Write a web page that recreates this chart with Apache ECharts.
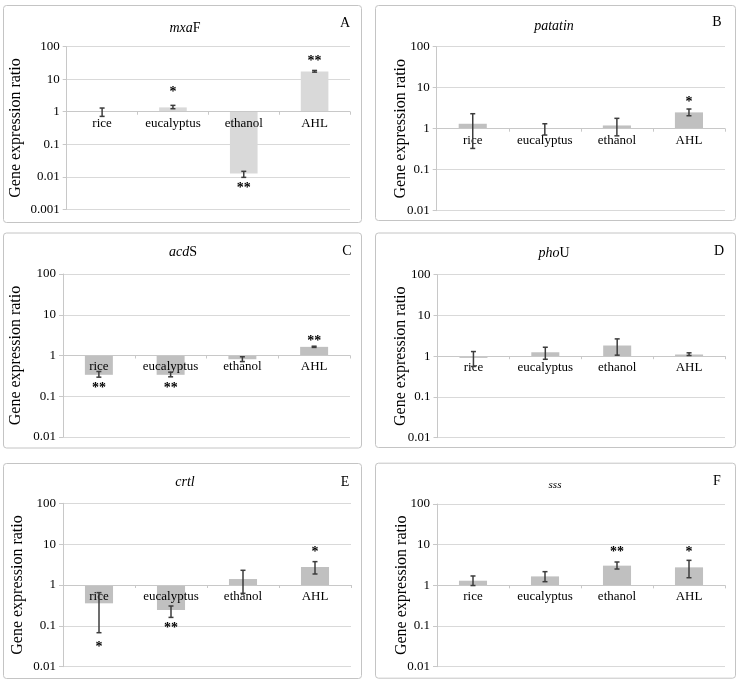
<!DOCTYPE html>
<html>
<head>
<meta charset="utf-8">
<script src="https://cdn.jsdelivr.net/npm/echarts@6/dist/echarts.min.js"></script>
<style>
html,body{margin:0;padding:0;background:#fff;}
#chart{width:743px;height:680px;}
</style>
</head>
<body>
<div id="chart"></div>
<script>
// ---------- data ----------
const categories = ['rice', 'eucalyptus', 'ethanol', 'AHL'];
const yTicksA = ['0.001', '0.01', '0.1', '1', '10', '100'];
const yTicks = ['0.01', '0.1', '1', '10', '100'];

const mxaF_ratio = [0.98, 1.36, 0.0127, 17.4];
const mxaF_low   = [0.72, 1.24, 0.0096, 16.5];
const mxaF_high  = [1.30, 1.57, 0.0147, 18.6];
const mxaF_sig   = ['', '*', '**', '**'];
const mxaF_sigAt = [null, 4.5, 0.0051, 41.6];

const patatin_ratio = [1.32, 1.02, 1.20, 2.50];
const patatin_low   = [0.33, 0.70, 0.67, 2.07];
const patatin_high  = [2.32, 1.32, 1.79, 3.02];
const patatin_sig   = ['', '', '', '*'];
const patatin_sigAt = [null, null, null, 5.0];

const acdS_ratio = [0.336, 0.336, 0.81, 1.63];
const acdS_low   = [0.294, 0.300, 0.71, 1.58];
const acdS_high  = [0.405, 0.390, 0.93, 1.69];
const acdS_sig   = ['**', '**', '', '**'];
const acdS_sigAt = [0.174, 0.174, null, 2.5];

const phoU_ratio = [0.91, 1.25, 1.83, 1.10];
const phoU_low   = [0.56, 0.84, 1.06, 1.04];
const phoU_high  = [1.30, 1.66, 2.66, 1.21];
const phoU_sig   = ['', '', '', ''];
const phoU_sigAt = [null, null, null, null];

const crtl_ratio = [0.356, 0.244, 1.40, 2.76];
const crtl_low   = [0.068, 0.161, 0.625, 1.86];
const crtl_high  = [0.65, 0.306, 2.29, 3.73];
const crtl_sig   = ['*', '**', '', '*'];
const crtl_sigAt = [0.034, 0.099, null, 7.2];

const sss_ratio = [1.30, 1.66, 3.05, 2.77];
const sss_low   = [0.99, 1.23, 2.52, 1.54];
const sss_high  = [1.70, 2.17, 3.75, 4.12];
const sss_sig   = ['', '', '**', '*'];
const sss_sigAt = [null, null, 7.4, 7.4];

const yAxisTitle = 'Gene expression ratio';

// ---------- panels (data + layout) ----------
const FONT = '"Liberation Serif", "Times New Roman", serif';
const panels = [
  { title: '{i|mxa}{n|F}', letter: 'A', ticks: yTicksA, ratio: mxaF_ratio, low: mxaF_low, high: mxaF_high, sig: mxaF_sig, sigAt: mxaF_sigAt,
    grid: {left: 66.7, top: 46.7, width: 283.3, height: 162.6}, box: [3, 5, 358, 217], tpos: [185, 28], lpos: [345, 23], nameGap: 43, color: '#d9d9d9' },
  { title: '{i|patatin}', letter: 'B', ticks: yTicks, ratio: patatin_ratio, low: patatin_low, high: patatin_high, sig: patatin_sig, sigAt: patatin_sigAt,
    grid: {left: 436.7, top: 46.7, width: 288.3, height: 164}, box: [375, 5, 360, 215], tpos: [554, 26], lpos: [717, 22], nameGap: 28, color: '#c0c0c0' },
  { title: '{i|acd}{n|S}', letter: 'C', ticks: yTicks, ratio: acdS_ratio, low: acdS_low, high: acdS_high, sig: acdS_sig, sigAt: acdS_sigAt,
    grid: {left: 63, top: 274, width: 287, height: 163}, box: [3, 232.5, 358, 215], tpos: [183, 252], lpos: [347, 251], nameGap: 39, color: '#c0c0c0' },
  { title: '{i|pho}{n|U}', letter: 'D', ticks: yTicks, ratio: phoU_ratio, low: phoU_low, high: phoU_high, sig: phoU_sig, sigAt: phoU_sigAt,
    grid: {left: 437.5, top: 274.7, width: 287.5, height: 163}, box: [375, 232.5, 360, 214.5], tpos: [554, 253], lpos: [719, 251], nameGap: 29, color: '#c0c0c0' },
  { title: '{i|crtl}', letter: 'E', ticks: yTicks, ratio: crtl_ratio, low: crtl_low, high: crtl_high, sig: crtl_sig, sigAt: crtl_sigAt,
    grid: {left: 63, top: 503.3, width: 288, height: 163.4}, box: [3, 463, 358, 215], tpos: [185, 482], lpos: [345, 482], nameGap: 37, color: '#c0c0c0' },
  { title: '{s|sss}', letter: 'F', ticks: yTicks, ratio: sss_ratio, low: sss_low, high: sss_high, sig: sss_sig, sigAt: sss_sigAt,
    grid: {left: 437, top: 504, width: 288, height: 162.7}, box: [375, 462.7, 360, 215], tpos: [555, 485], lpos: [717, 481], nameGap: 27, color: '#c0c0c0' }
];

const option = {
  animation: false,
  backgroundColor: '#ffffff',
  grid: [], xAxis: [], yAxis: [], series: [], graphic: []
};

panels.forEach((p, i) => {
  const minV = Number(p.ticks[0]);
  const maxV = Number(p.ticks[p.ticks.length - 1]);
  const lmin = Math.log10(minV), lmax = Math.log10(maxV);
  option.grid.push(Object.assign({containLabel: false}, p.grid));
  option.xAxis.push({
    type: 'category', gridIndex: i, data: categories, position: 'bottom', z: 10,
    offset: -p.grid.height * (0 - lmin) / (lmax - lmin),
    axisLine: {show: true, onZero: false, lineStyle: {color: '#c8c8c8', width: 1}},
    axisTick: {show: true, length: 3, lineStyle: {color: '#c8c8c8'}},
    axisLabel: {interval: 0, hideOverlap: false, margin: 5, fontFamily: FONT, fontSize: 13, color: '#000'},
    splitLine: {show: false}
  });
  option.yAxis.push({
    type: 'log', logBase: 10, gridIndex: i, min: minV, max: maxV,
    axisLine: {show: true, lineStyle: {color: '#c8c8c8', width: 1}},
    axisTick: {show: true, length: 4, lineStyle: {color: '#c8c8c8'}},
    minorTick: {show: false}, minorSplitLine: {show: false},
    splitLine: {show: true, lineStyle: {color: '#d9d9d9', width: 1}},
    axisLabel: {
      margin: 7, fontFamily: FONT, fontSize: 13, color: '#000',
      formatter: v => p.ticks[Math.round(Math.log10(v) - lmin)]
    },
    name: yAxisTitle, nameLocation: 'middle', nameGap: p.nameGap, nameRotate: 90,
    nameMoveOverlap: false,
    nameTextStyle: {fontFamily: FONT, fontSize: 16, color: '#000'}
  });
  option.series.push({
    type: 'bar', xAxisIndex: i, yAxisIndex: i, data: p.ratio, barWidth: '39%',
    itemStyle: {color: p.color}, silent: true, z: 2
  });
  option.series.push({
    type: 'custom', xAxisIndex: i, yAxisIndex: i, z: 12, silent: true,
    data: categories.map((c, j) => [j, p.low[j], p.high[j]]),
    renderItem: (params, api) => {
      const lo = api.coord([api.value(0), api.value(1)]);
      const hi = api.coord([api.value(0), api.value(2)]);
      const w = 2.5;
      const st = {stroke: '#3c3c3c', lineWidth: 1.5};
      return {type: 'group', children: [
        {type: 'line', shape: {x1: lo[0], y1: lo[1], x2: hi[0], y2: hi[1]}, style: st},
        {type: 'line', shape: {x1: lo[0] - w, y1: lo[1], x2: lo[0] + w, y2: lo[1]}, style: st},
        {type: 'line', shape: {x1: hi[0] - w, y1: hi[1], x2: hi[0] + w, y2: hi[1]}, style: st}
      ]};
    }
  });
  const stars = [];
  p.sig.forEach((s, j) => { if (s) stars.push({value: [j, p.sigAt[j]], text: s}); });
  option.series.push({
    type: 'custom', xAxisIndex: i, yAxisIndex: i, z: 13, silent: true,
    data: stars.map(s => s.value),
    renderItem: (params, api) => {
      const pt = api.coord([api.value(0), api.value(1)]);
      return {type: 'text', x: pt[0], y: pt[1] + 2,
        style: {text: stars[params.dataIndex].text, font: 'bold 14px ' + FONT, fill: '#000', align: 'center', verticalAlign: 'middle'}};
    }
  });
  option.graphic.push({
    type: 'rect', silent: true, z: -1,
    shape: {x: p.box[0] + 0.5, y: p.box[1] + 0.5, width: p.box[2], height: p.box[3], r: 3},
    style: {fill: 'none', stroke: '#c4c4c4', lineWidth: 1}
  });
  option.graphic.push({
    type: 'text', silent: true, x: p.tpos[0], y: p.tpos[1],
    style: {
      text: p.title, align: 'center', verticalAlign: 'middle', fill: '#000',
      font: '14px ' + FONT,
      rich: {
        i: {fontFamily: FONT, fontSize: 14, fontStyle: 'italic', fill: '#000'},
        n: {fontFamily: FONT, fontSize: 14, fill: '#000'},
        s: {fontFamily: FONT, fontSize: 11, fontStyle: 'italic', fill: '#000'}
      }
    }
  });
  option.graphic.push({
    type: 'text', silent: true, x: p.lpos[0], y: p.lpos[1],
    style: {text: p.letter, align: 'center', verticalAlign: 'middle', fill: '#000', font: '14px ' + FONT}
  });
});

const chart = echarts.init(document.getElementById('chart'), null, {renderer: 'canvas'});
chart.setOption(option);
</script>
</body>
</html>
